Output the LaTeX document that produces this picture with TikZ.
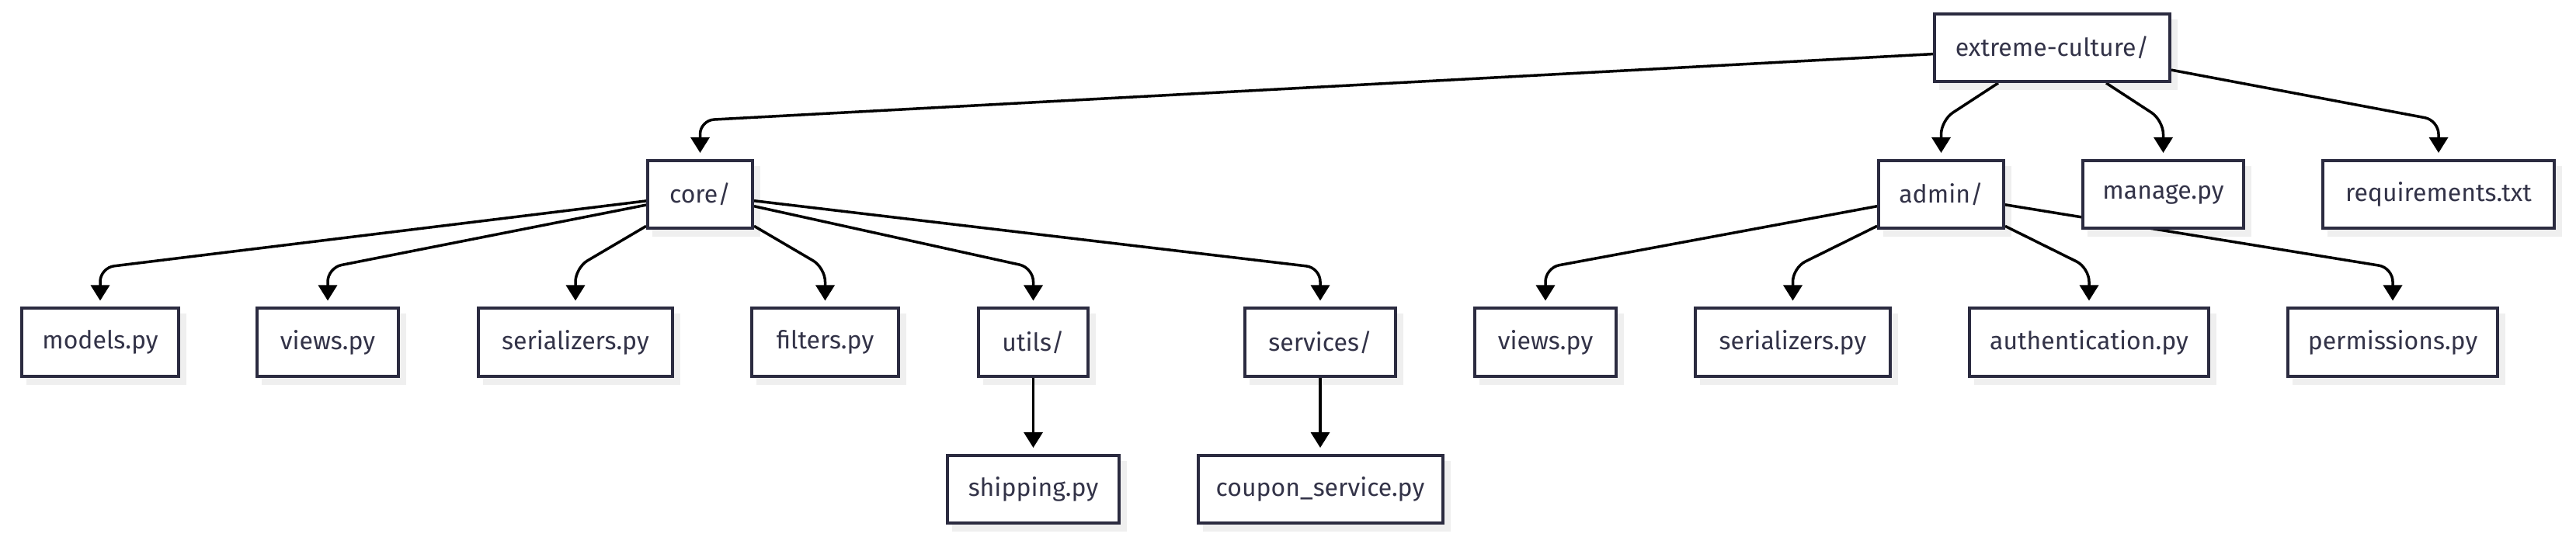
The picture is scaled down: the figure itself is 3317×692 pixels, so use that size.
\documentclass[tikz,border=0pt]{standalone}
\usepackage{fontspec}
\setmainfont{Fira Sans}
\usetikzlibrary{arrows.meta}
\definecolor{boxline}{HTML}{2B2B40}
\definecolor{boxtext}{HTML}{333348}
\definecolor{shadowgray}{HTML}{EFEFEF}
\tikzset{
    entry/.style={rectangle, draw=boxline, line width=4pt, fill=white,
    	text=boxtext, minimum height=87pt, minimum width=#1, inner sep=0pt,
    	font=\fontsize{32}{38}\selectfont}
}
\tikzset{
    link/.style={line width=3.5pt, -{Triangle[width=24pt,length=20pt]},
    	shorten >=8pt, rounded corners=18pt}
}
\pgfdeclarelayer{shadow}
\pgfdeclarelayer{background}
\pgfsetlayers{shadow,background,main}

\begin{document}
\begin{tikzpicture}[x=1pt, y=-1pt]
	\useasboundingbox (0,0) rectangle (3317,692);

	\node (ec) [entry=303pt] at (2642.5,61.5) {extreme-culture/};

	\node (core) [entry=135pt] at (901.5,250.5) {core/};
	\node (admin) [entry=161pt] at (2499.5,250.5) {admin/};
	\node (manage) [entry=207pt] at (2785.5,250.5) {manage.py};
	\node (req) [entry=298pt] at (3140,250.5) {requirements.txt};

	\node (models) [entry=202pt] at (129,441) {models.py};
	\node (views) [entry=182pt] at (422,441) {views.py};
	\node (ser) [entry=250pt] at (741,441) {serializers.py};
	\node (filters) [entry=189pt] at (1062.5,441) {filters.py};
	\node (utils) [entry=141pt] at (1330.5,441) {utils/};
	\node (services) [entry=194pt] at (1700,441) {services/};
	\node (aviews) [entry=182pt] at (1990,441) {views.py};
	\node (aser) [entry=251pt] at (2308.5,441) {serializers.py};
	\node (auth) [entry=308pt] at (2690,441) {authentication.py};
	\node (perm) [entry=270pt] at (3081,441) {permissions.py};

	\node (ship) [entry=221pt] at (1330.5,630.5) {shipping.py};
	\node (coupon) [entry=315pt] at (1700,630.5) {coupon\_service.py};

	% shadows sit under the connectors
	\begin{pgfonlayer}{shadow}
	\foreach \n in {ec,core,admin,manage,req,models,views,ser,filters,utils,
		services,aviews,aser,auth,perm,ship,coupon}
		\fill[shadowgray] ([shift={(8pt,-9pt)}]\n.south west)
			rectangle ([shift={(8pt,-9pt)}]\n.north east);
	\end{pgfonlayer}

	\begin{pgfonlayer}{background}
	\draw[link] (ec) -- (core.north |- 0,155) -- (core.north);
	\draw[link] (ec) -- (admin.north |- 0,155) -- (admin.north);
	\draw[link] (ec) -- (manage.north |- 0,155) -- (manage.north);
	\draw[link] (ec) -- (req.north |- 0,155) -- (req.north);

	\draw[link] (core) -- (models.north |- 0,345) -- (models.north);
	\draw[link] (core) -- (views.north |- 0,345) -- (views.north);
	\draw[link] (core) -- (ser.north |- 0,345) -- (ser.north);
	\draw[link] (core) -- (filters.north |- 0,345) -- (filters.north);
	\draw[link] (core) -- (utils.north |- 0,345) -- (utils.north);
	\draw[link] (core) -- (services.north |- 0,345) -- (services.north);

	\draw[link] (admin) -- (aviews.north |- 0,345) -- (aviews.north);
	\draw[link] (admin) -- (aser.north |- 0,345) -- (aser.north);
	\draw[link] (admin) -- (auth.north |- 0,345) -- (auth.north);
	\draw[link] (admin) -- (perm.north |- 0,345) -- (perm.north);

	\draw[link] (utils) -- (ship);
	\draw[link] (services) -- (coupon);
	\end{pgfonlayer}
\end{tikzpicture}
\end{document}
